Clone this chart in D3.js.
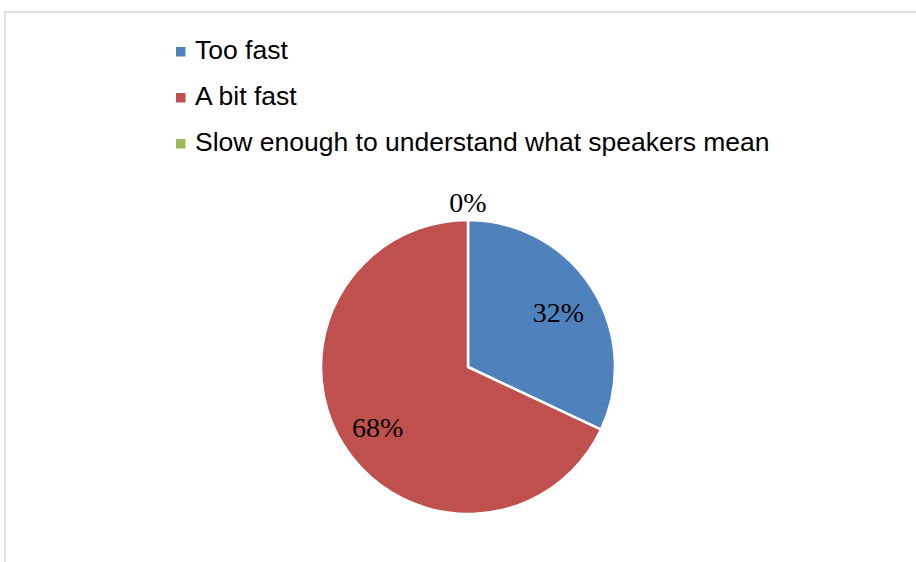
<!DOCTYPE html>
<html>
<head>
<meta charset="utf-8">
<script src="https://cdn.jsdelivr.net/npm/d3@7"></script>
<style>
  html, body { margin: 0; padding: 0; background: #fff; }
  svg { display: block; }
</style>
</head>
<body>
<svg id="chart" width="916" height="562"></svg>
<script>
// Listening-speed survey responses
const categories = ["Too fast", "A bit fast", "Slow enough to understand what speakers mean"];
const shares = [32, 68, 0];
const colors = ["#4F81BD", "#C0504D", "#9BBB59"];

const svg = d3.select("#chart");
const W = 916, H = 562;

// chart area frame (extends past the right and bottom edges)
svg.append("rect")
  .attr("x", 5).attr("y", 12)
  .attr("width", W + 20).attr("height", H + 20)
  .attr("fill", "#fff")
  .attr("stroke", "#d9d9d9")
  .attr("stroke-width", 1.5);

// legend
const legend = svg.append("g").attr("transform", "translate(176,0)");
const legendBaselines = [59, 105, 151];
categories.forEach((c, i) => {
  const row = legend.append("g").attr("transform", `translate(0,${legendBaselines[i]})`);
  row.append("rect")
    .attr("x", 0).attr("y", -12)
    .attr("width", 9.5).attr("height", 9.5)
    .attr("fill", colors[i]);
  row.append("text")
    .attr("x", 19).attr("y", 0)
    .attr("font-family", "Liberation Sans, Arial, sans-serif")
    .attr("font-size", 26.5)
    .attr("fill", "#000")
    .text(c);
});

// pie
const cx = 468, cy = 367, r = 147;
const pie = d3.pie().sort(null).value(d => d.v);
const arcs = pie(shares.map((v, i) => ({ v, c: categories[i], i })));
const arc = d3.arc().innerRadius(0).outerRadius(r);

const g = svg.append("g").attr("transform", `translate(${cx},${cy})`);
g.selectAll("path.slice")
  .data(arcs.filter(a => a.data.v > 0))
  .join("path")
  .attr("class", "slice")
  .attr("d", arc)
  .attr("fill", d => colors[d.data.i])
  .attr("stroke", "#fff")
  .attr("stroke-width", 2.5)
  .attr("stroke-linejoin", "round");

// data labels: inside for non-empty slices, just outside for empty ones
const inner = d3.arc().innerRadius(107).outerRadius(107);
const outer = d3.arc().innerRadius(r + 18).outerRadius(r + 18);
g.selectAll("text.lbl")
  .data(arcs)
  .join("text")
  .attr("class", "lbl")
  .attr("transform", d => {
    const p = (d.data.v > 0 ? inner : outer).centroid(d);
    return `translate(${p[0]},${p[1]})`;
  })
  .attr("text-anchor", "middle")
  .attr("dy", d => d.data.v > 0 ? "0.45em" : "0.36em")
  .attr("font-family", "Liberation Serif, Cambria, serif")
  .attr("font-size", 28)
  .attr("fill", "#000")
  .text(d => d.data.v + "%");
</script>
</body>
</html>
